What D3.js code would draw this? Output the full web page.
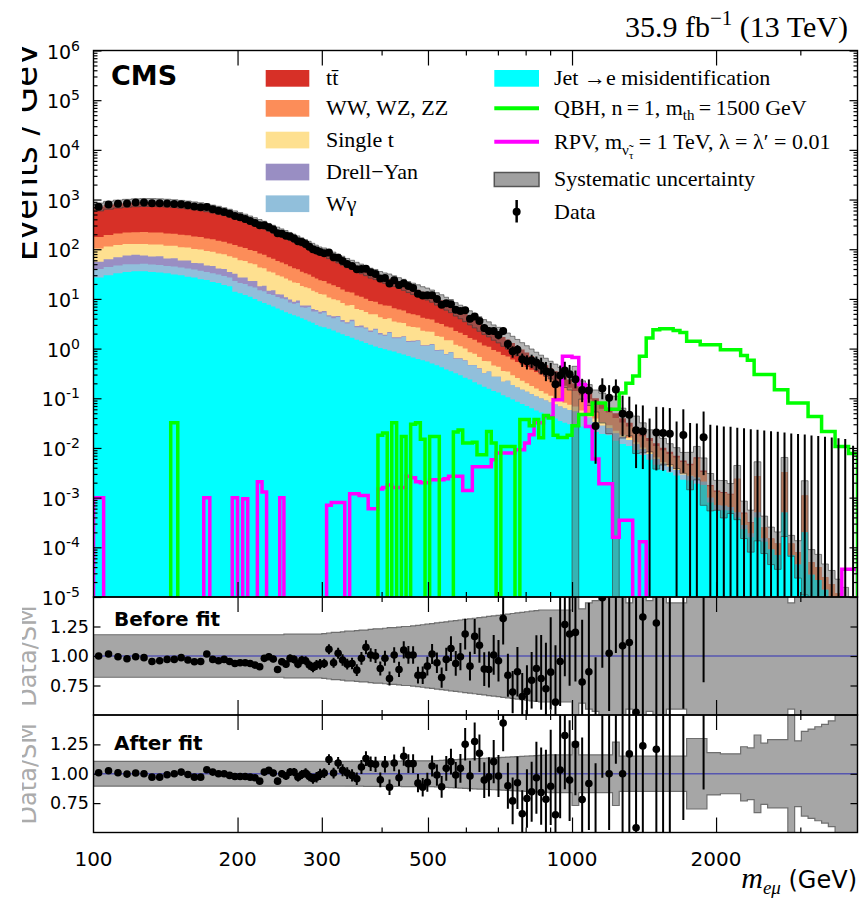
<!DOCTYPE html>
<html>
<head>
<meta charset="utf-8">
<script src="https://cdn.jsdelivr.net/npm/d3@7"></script>
<style>
  body { margin: 0; background: #fff; }
  .serif { font-family: "Liberation Serif", "Times New Roman", serif; }
</style>
</head>
<body>
<div id="chart"></div>
<script>
// ---- binning (GeV) ----
const binEdges = [
  100,105,110,115,120,125,130,135,140,145,150,155,160,165,170,175,180,185,190,195,
  200,205,210,215,220,225,230,235,240,245,250,255,260,265,270,275,280,285,290,295,300,
  307,314,321,328,335,343,351,359,367,375,384,393,402,411,420,430,440,450,460,471,
  482,493,504,516,528,540,552,565,578,591,605,619,633,648,663,678,694,710,726,743,
  760,778,796,814,833,852,872,892,913,934,955,977,1000,
  1033,1067,1102,1138,1176,1215,1255,1296,1339,1383,1429,1476,1525,1575,1627,1681,
  1736,1794,1853,1914,1977,2042,2110,2179,2251,2325,2402,2481,2563,2648,2735,2825,
  2919,3015,3114,3217,3323,3433,3546,3663,3784,3950
];

// ---- backgrounds, events / GeV per bin ----
const jetFakes = [
  27,30,33,35,36,36,35,34,33,31,
  30,28,27,25,24,22,21,19,18,14,
  13,12,11,10,9,8.3,7.6,7,6.4,5.9,
  5.4,5,4.7,4.4,4.1,3.8,3.5,3.3,3.0,2.8,
  2.7,2.5,2.3,2.1,1.95,1.8,1.65,1.5,1.4,1.3,
  1.2,1.1,1.03,0.97,0.92,0.87,0.81,0.76,0.71,0.66,
  0.62,0.58,0.55,0.5,0.46,0.42,0.38,0.35,0.32,0.29,
  0.26,0.24,0.21,0.19,0.17,0.155,0.14,0.13,0.115,0.105,
  0.095,0.085,0.077,0.07,0.063,0.057,0.052,0.047,0.043,0.039,
  0.035,0.032,0.03,0.03,0.027,0.026,0.021,0.019,0.018,0.014,
  0.012,0.011,0.0091,0.0072,0.0058,0.0046,0.0036,0.0032,0.0028,0.0023,
  0.0022,0.0019,0.0018,8e-4,5.6e-4,5.6e-4,5.5e-4,4e-4,2.3e-4,1.6e-4,
  4e-4,1.3e-4,9e-5,7e-5,5e-4,7e-5,4.5e-5,2e-4,2.8e-5,2.2e-5,
  1.4e-5,1e-5,7e-6,5e-6,3e-6
];
const wGamma = [
  13,14,14,15,14,15,14,14,13,14,
  13,13,12,12,11,11,10,10,9,9,
  8,8,7,7,6,6,5,5,4.5,4.3,
  4.4,3.5,3.3,3.9,2.7,2.8,3.4,2.3,2.6,2.2,
  2.6,1.9,1.8,2.2,1.5,1.4,1.9,1.2,1.3,1.25,
  0.95,1.3,0.9,0.85,1.15,0.75,0.8,0.95,0.65,0.72,
  0.8,0.55,0.58,0.7,0.45,0.5,0.38,0.48,0.3,0.33,
  0.31,0.22,0.25,0.2,0.15,0.19,0.13,0.14,0.1,0.12,
  0.09,0.08,0.072,0.065,0.058,0.052,0.047,0.043,0.039,0.036,
  0.033,0.03,0.028,0.024,0.019,0.015,0.012,0.009,0.007,0.0055,
  0.0045,0.0035,0.0028,0.0022,0.0018,0.0014,0.0012,0.001,0.0008,0.0006,
  0.0005,0.0006,0.0003,0.0002,1.5e-4,1.3e-4,1e-4,1e-4,5e-5,3e-5,
  1e-4,2e-5,0,0,0,0,0,0,0,0,
  0,0,0,0,0
];
const drellYan = [
  16,19,22,25,27,24,22,24,19,21,
  16,18,14,15,12,13,10,11,8,9,
  6,7,5,6,3,4,2,3,1.5,2,
  1,1.2,0.8,1.0,0.6,0.8,0.5,0.7,0.4,0.5,
  0.4,0.3,0.4,0.25,0.3,0.2,0.25,0.15,0.2,0.12,
  0.15,0.1,0.12,0.08,0.1,0.07,0.08,0.06,0.06,0.05,
  0.05,0.04,0.04,0.03,0.03,0.03,0.02,0.02,0.02,0.02,
  0.01,0.01,0.01,0.01,0,0,0,0,0,0,
  0,0,0,0,0,0,0,0,0,0,
  0,0,0,0,0,0,0,0,0,0,
  0,0,0,0,0,0,0,0,0,0,
  0,0,0,0,0,0,0,0,0,0,
  0,0,0,0,0,0,0,0,0,0,
  0,0,0,0,0
];
const singleTop = [
  48,50,52,52,50,52,53,52,52,51,
  50,49,48,47,45,43,41,39,37,35,
  33,31,29,27,25,23,21,19,17.5,16,
  15,13.8,12.7,11.6,10.7,9.8,9.0,8.3,7.6,7.0,
  6.6,6.0,5.4,4.9,4.5,4.0,3.7,3.4,3.1,2.8,
  2.6,2.4,2.2,2.05,1.93,1.8,1.65,1.52,1.4,1.3,
  1.2,1.12,1.05,0.95,0.86,0.78,0.7,0.62,0.55,0.48,
  0.42,0.37,0.32,0.28,0.24,0.21,0.185,0.16,0.14,0.12,
  0.105,0.09,0.077,0.066,0.056,0.048,0.041,0.035,0.03,0.026,
  0.022,0.019,0.016,0.014,0.011,0.008,0.006,0.0045,0.0035,0.0026,
  0.002,0.0015,0.0011,0.0008,0.0006,0.0005,0.0004,0.0003,0.0002,0.0002,
  0.0001,0.0001,0,0,0,0,0,0,0,0,
  0,0,0,0,0,0,0,0,0,0,
  0,0,0,0,0
];
const diboson = [
  72,80,86,90,93,94,93,92,90,88,
  86,83,80,77,73,70,66,63,59,55,
  52,48,45,42,39,36,33,30,28,26,
  24,22,20,18.5,17.2,15.8,14.6,13.4,12.3,11.3,
  10.7,9.8,8.9,8.0,7.3,6.6,6.0,5.5,5.0,4.6,
  4.2,3.9,3.6,3.4,3.2,3.0,2.75,2.55,2.35,2.17,
  2.0,1.88,1.78,1.65,1.52,1.4,1.29,1.18,1.07,0.97,
  0.88,0.8,0.72,0.65,0.59,0.53,0.48,0.43,0.39,0.35,
  0.31,0.28,0.25,0.225,0.2,0.18,0.162,0.146,0.132,0.12,
  0.108,0.098,0.088,0.072,0.058,0.047,0.036,0.029,0.023,0.018,
  0.014,0.011,0.009,0.007,0.0056,0.0045,0.0038,0.0031,0.0026,0.0021,
  0.0017,0.0035,0.0012,7e-4,6e-4,5.5e-4,5e-4,0.0019,2e-4,1.2e-4,
  0.0022,1e-4,6e-5,5e-5,0.0028,5e-5,3.5e-5,9e-4,2.2e-5,1.8e-5,
  1.1e-5,8e-6,5e-6,3e-6,2e-6
];
const ttbar = [
  544,587,618,638,655,664,668,659,653,635,
  620,599,579,554,530,496,472,438,409,378,
  353,324,298,273,253,233,211,193,178,163,
  151,138,128,117,108,99,91,83,76,70,
  66,60,54,49,44.3,39.9,36,33.1,30.1,27.6,
  24.8,23,21.1,19.6,18.3,17,15.4,14,12.75,11.6,
  10.6,9.75,9.0,8.0,7.1,6.3,5.6,4.85,4.2,3.64,
  3.16,2.74,2.33,1.98,1.73,1.5,1.3,1.13,0.965,0.825,
  0.7,0.585,0.484,0.404,0.333,0.273,0.228,0.189,0.156,0.129,
  0.102,0.091,0.078,0.06,0.045,0.034,0.025,0.018,0.013,0.01,
  0.007,0.005,0.0038,0.0028,0.002,0.0015,0.0011,8e-4,6e-4,4e-4,
  3e-4,4e-4,2e-4,1e-4,8e-5,6e-5,5e-5,0,2e-5,1e-5,
  0,0,0,0,0,0,0,0,0,0,
  0,0,0,0,0
];

// ---- signals, events / GeV ----
const qbhSignal = [
  0,0,0,0,0,0,0,0,0,0.032,
  0,0,0,0,0,0,0,0,0,0,
  0,0,0,0,0,0,0,0,0,0,
  0,0,0,0,0,0,0,0,0,0,
  0,0,0,0,0,0,0,0,0,0,
  0,0,0.018,0.02,0,0.032,0,0.017,0,0.03,
  0.032,0.015,0,0.017,0.017,0,0,0,0.021,0.023,
  0.0126,0.0126,0.013,0.0073,0.0073,0.0215,0.0126,0,0.0107,0.0107,
  0.0107,0,0.0375,0.0375,0.028,0.0375,0.016,0.045,0.04,0.018,
  0.0163,0.0163,0.018,0.028,0.047,0.047,0.08,0.08,0.06,0.06,
  0.128,0.2,0.28,0.7,1.64,2.4,2.5,2.5,2.3,2.1,
  1.4,1.4,1.2,1.2,1.2,0.95,0.95,0.95,0.73,0.58,
  0.3,0.3,0.3,0.149,0.149,0.08,0.08,0.08,0.043,0.043,
  0.0215,0.0215,0.0107,0.0107,0.0077
];
const rpvSignal = [
  0.001,0,0,0,0,0,0,0,0,0,
  0,0,0,0,0.001,0,0,0,0,0.001,
  0,0.00095,0,0,0.0021,0.0013,0,0,0,0.001,
  0,0,0,0,0,0,0,0,0,0,
  0,0.0007,0.0008,0.0008,0.0008,0,0.0012,0.0012,0.0011,0.0011,
  0.0006,0.0006,0.0015,0.0016,0.0018,0.0016,0.0016,0.0016,0.0027,0.0025,
  0.0021,0.002,0.002,0.0023,0.0023,0.0023,0.0024,0.0027,0.0027,0.0027,
  0.0014,0.0014,0.0042,0.0042,0.0042,0.0042,0.0058,0.0079,0.0079,0.0079,
  0.0079,0.0092,0.0092,0.0126,0.0185,0.032,0.032,0.043,0.043,0.093,
  0.093,0.7,0.7,0.66,0.19,0.027,0.006,0.0019,0.0019,1.6e-4,
  3.5e-4,3.5e-4,0,1.3e-4,0,0,0,0,0,0,
  0,0,0,0,0,0,0,0,0,0,
  0,0,0,0,0,0,0,0,0,0,
  0,0,0,3.6e-5,3.6e-5
];

// ---- observed events per bin ----
const dataEvents = [
  3600,3970,4100,4180,4350,4360,4220,4200,4180,4080,
  4020,3820,3610,3480,3530,3180,2980,2820,2580,2340,
  2190,2030,1850,1680,1520,1520,1390,1250,1045,1030,
  931,902,825,726,696,634,558,501,471,438,
  584,599,482,473,406,402,367,317,321,322,
  309,284,233,238,184,238,190,207,182,183,
  139,129,131,143,119,92,98,102,79,74,
  83,56,62,54,39,34,36,30,36,21,
  15,17,11,10,11,10,9,7,7,4,
  6,8,7,8,5,5,1,6,4,6,
  2,2,1,1,0,1,1,1,0,1,
  0,0,1,0,0,0,0,0,0,0,
  0,0,0,0,0,0,0,0,0,0,
  0,0,0,0,0
];

// ---- data / SM ratios ----
const ratioBefore = [
  1.0,1.017,0.994,0.977,0.994,0.986,0.954,0.96,0.971,0.971,
  0.986,0.966,0.951,0.954,1.017,0.971,0.96,0.971,0.954,0.937,
  0.943,0.943,0.937,0.923,0.909,0.98,0.994,0.974,0.886,0.951,
  0.931,0.98,0.971,0.931,0.966,0.96,0.923,0.903,0.923,0.931,
  0.937,1.057,0.943,1.023,0.966,0.931,0.937,0.88,0.98,1.074,
  1.009,1.0,0.894,0.98,0.809,1.009,0.886,1.051,1.009,1.009,
  0.837,0.837,0.914,1.017,0.943,0.817,0.971,1.063,0.937,0.994,
  1.186,0.914,1.166,1.091,0.889,0.886,1.009,0.96,1.317,0.837,
  0.694,0.866,0.657,0.7,0.794,0.894,0.809,0.723,0.863,0.609,
  0.954,1.266,1.186,1.2,0.78,0.866,0.3,1.494,1.023,1.7,
  1.086,1.114,0.523,1.331,0,1.28,2.2,2.5,0,3.2,
  0,0,4.5,0,0,0,0,0,0,0,
  0,0,0,0,0,0,0,0,0,0,
  0,0,0,0,0
];
const ratioAfter = [
  1.009,1.026,1.009,0.997,1.006,1.0,0.971,0.971,0.991,1.0,
  1.014,0.994,0.971,0.971,1.034,1.014,1.0,1.0,0.986,0.977,
  0.977,0.977,0.971,0.966,0.937,1.014,1.029,1.006,0.937,1.0,
  0.98,1.014,1.014,0.971,0.994,1.006,0.977,0.957,0.971,0.994,
  1.006,1.121,1.006,1.092,1.029,1.006,0.986,0.957,1.057,1.129,
  1.086,1.08,0.948,1.08,0.885,1.092,0.966,1.149,1.086,1.086,
  0.92,0.885,0.928,1.066,0.989,0.889,1.046,1.103,0.989,1.046,
  1.251,0.98,1.274,1.174,0.946,0.974,1.103,0.98,1.431,0.897,
  0.769,0.923,0.66,0.789,0.846,0.966,0.84,0.783,0.894,0.651,
  1.031,1.326,0.946,1.25,0.78,0.917,0.33,1.6,1.0,1.8,
  1.0,1.169,0.54,1.237,0,1.209,2.4,2.7,0,3.5,
  0,0,5,0,0,0,0,0,0,0,
  0,0,0,0,0,0,0,0,0,0,
  0,0,0,0,0
];

// ---- relative systematic uncertainty on the SM prediction ----
const systBefore = [
  0.18,0.18,0.18,0.18,0.18,0.18,0.18,0.18,0.18,0.18,
  0.18,0.18,0.18,0.18,0.18,0.18,0.18,0.18,0.18,0.18,
  0.18,0.18,0.18,0.18,0.18,0.18,0.18,0.18,0.18,0.18,
  0.185,0.185,0.185,0.185,0.185,0.185,0.185,0.185,0.185,0.185,
  0.19,0.195,0.2,0.2,0.205,0.21,0.21,0.215,0.22,0.22,
  0.225,0.23,0.23,0.235,0.24,0.24,0.245,0.25,0.25,0.255,
  0.26,0.265,0.27,0.275,0.28,0.285,0.29,0.295,0.3,0.305,
  0.31,0.315,0.32,0.325,0.33,0.335,0.34,0.345,0.35,0.355,
  0.36,0.365,0.37,0.375,0.38,0.385,0.39,0.39,0.39,0.39,
  0.39,0.39,0.39,1.2,0.4,0.45,0.47,0.6,0.7,1.2,
  0.6,0.45,0.7,0.6,0.47,0.7,0.55,0.45,0.45,0.45,
  0.7,0.65,0.8,0.7,0.6,0.7,0.6,0.85,0.7,0.75,
  0.95,0.7,0.7,0.7,0.95,0.45,0.7,0.99,0.8,0.8,
  0.85,0.9,0.9,0.95,0.9
];
const systAfter = [
  0.105,0.105,0.105,0.105,0.105,0.105,0.105,0.105,0.105,0.105,
  0.105,0.105,0.105,0.105,0.105,0.105,0.105,0.105,0.105,0.105,
  0.105,0.105,0.105,0.105,0.105,0.105,0.105,0.105,0.105,0.105,
  0.105,0.105,0.105,0.105,0.105,0.105,0.105,0.105,0.105,0.105,
  0.105,0.105,0.105,0.105,0.105,0.106,0.106,0.106,0.106,0.107,
  0.107,0.107,0.107,0.108,0.108,0.108,0.108,0.109,0.109,0.109,
  0.11,0.11,0.11,0.11,0.112,0.114,0.116,0.118,0.12,0.122,
  0.124,0.126,0.128,0.13,0.132,0.134,0.136,0.138,0.14,0.142,
  0.144,0.146,0.148,0.15,0.152,0.154,0.156,0.158,0.16,0.16,
  0.16,0.16,0.16,0.27,0.16,0.16,0.16,0.16,0.16,0.27,
  0.15,0.15,0.15,0.15,0.15,0.15,0.15,0.15,0.15,0.15,
  0.3,0.3,0.3,0.18,0.18,0.17,0.17,0.17,0.23,0.22,
  0.33,0.26,0.29,0.29,0.29,0.5,0.28,0.36,0.38,0.4,
  0.42,0.45,0.5,0.5,0.5
];

// ---- axis ticks ----
const xLabelTicks = [100, 200, 300, 500, 1000, 2000];
const xMajorTicks = [200, 300, 500, 1000, 2000];
const xMinorTicks = [400, 600, 700, 800, 900, 3000];
const yExponents = [-5, -4, -3, -2, -1, 0, 1, 2, 3, 4, 5, 6];
const ratioTicks = [0.75, 1.0, 1.25];

// ---- layout ----
const frame = {left: 93.5, right: 857.5, top: 50.5, main: 597, r1: 715, r2: 832.5};
const nBins = binEdges.length - 1;
const FLOOR = 1e-8;

const svg = d3.select('#chart').append('svg')
    .attr('width', 861)
    .attr('height', 898)
    .style('font-family', '"DejaVu Sans", sans-serif');

const x = d3.scaleLog().domain([100, 3950]).range([frame.left, frame.right]);
const y = d3.scaleLog().domain([1e-5, 1e6]).range([frame.main, frame.top]);
const yBefore = d3.scaleLinear().domain([0.5, 1.5]).range([frame.r1, frame.main]);
const yAfter = d3.scaleLinear().domain([0.5, 1.5]).range([frame.r2, frame.r1]);
const logY = v => y(Math.max(v || 0, FLOOR));

const defs = svg.append('defs');
function addClip(id, x0, y0, x1, y1) {
  defs.append('clipPath').attr('id', id).append('rect')
      .attr('x', x0).attr('y', y0).attr('width', x1 - x0).attr('height', y1 - y0);
}
addClip('clip-main', frame.left, frame.top, frame.right, frame.main);
addClip('clip-r1', frame.left, frame.main, frame.right, frame.r1);
addClip('clip-r2', frame.left, frame.r1, frame.right, frame.r2);
addClip('clip-ylab', 22, 0, 200, 898);

// step helpers: one point per lower bin edge plus the closing edge
function stepData(lo, hi) {
  const pts = d3.range(nBins).map(i => ({x: binEdges[i], lo: lo(i), hi: hi(i)}));
  pts.push({x: binEdges[nBins], lo: lo(nBins - 1), hi: hi(nBins - 1)});
  return pts;
}
const stepAreaLog = d3.area().curve(d3.curveStepAfter)
    .x(d => x(d.x)).y0(d => logY(d.lo)).y1(d => logY(d.hi));

// ---- stacked backgrounds ----
const keys = ['jet', 'wg', 'dy', 'st', 'vv', 'tt'];
const colors = {jet: '#00ffff', wg: '#91bfdb', dy: '#998ec3', st: '#fee090', vv: '#fc8d59', tt: '#d73027'};
const rows = d3.range(nBins).map(i => ({
  jet: jetFakes[i] || 0, wg: wGamma[i] || 0, dy: drellYan[i] || 0,
  st: singleTop[i] || 0, vv: diboson[i] || 0, tt: ttbar[i] || 0
}));
const stacked = d3.stack().keys(keys)(rows);
const total = d3.range(nBins).map(i => stacked[stacked.length - 1][i][1]);

const mainG = svg.append('g').attr('clip-path', 'url(#clip-main)');

// paint from the top layer down, each from the floor, so no seams show between layers
stacked.slice().reverse().forEach(layer => {
  mainG.append('path')
      .attr('d', stepAreaLog(stepData(() => FLOOR, i => layer[i][1])))
      .attr('fill', colors[layer.key]);
});

// systematic band
mainG.append('path')
    .attr('d', stepAreaLog(stepData(i => total[i] * (1 - systBefore[i]), i => total[i] * (1 + systBefore[i]))))
    .attr('fill', '#6a6a6a')
    .attr('fill-opacity', 0.5)
    .attr('stroke', '#3c3c3c')
    .attr('stroke-opacity', 0.7)
    .attr('stroke-width', 0.9);

// signals as step outlines
const stepLineLog = d3.line().curve(d3.curveStepAfter).x(d => x(d.x)).y(d => logY(d.v));
function signalPts(vals) {
  const pts = [{x: binEdges[0], v: 0}];
  d3.range(nBins).forEach(i => pts.push({x: binEdges[i], v: vals[i] || 0}));
  pts.push({x: binEdges[nBins], v: vals[nBins - 1] || 0});
  pts.push({x: binEdges[nBins], v: 0});
  return pts;
}
mainG.append('path').attr('d', stepLineLog(signalPts(rpvSignal)))
    .attr('fill', 'none').attr('stroke', '#ff00ff').attr('stroke-width', 3.5);
mainG.append('path').attr('d', stepLineLog(signalPts(qbhSignal)))
    .attr('fill', 'none').attr('stroke', '#00ff00').attr('stroke-width', 3.5);

// ---- data ----
const garwood = [[0, 1.841], [0.173, 3.300], [0.708, 4.638], [1.367, 5.918], [2.086, 7.163],
                 [2.840, 8.382], [3.620, 9.584], [4.419, 10.77], [5.232, 11.95], [6.057, 13.11]];
function poissonInterval(n) {
  if (n < garwood.length) return garwood[n];
  const s = Math.sqrt(n);
  return [n - s, n + s];
}
const dataPts = d3.range(nBins).map(i => {
  const w = binEdges[i + 1] - binEdges[i];
  const n = dataEvents[i] || 0;
  const [lo, hi] = poissonInterval(n);
  return {i, n, w, xc: (binEdges[i] + binEdges[i + 1]) / 2, v: n / w, lo: lo / w, hi: hi / w};
});

mainG.append('g').selectAll('line').data(dataPts).join('line')
    .attr('x1', d => x(d.xc)).attr('x2', d => x(d.xc))
    .attr('y1', d => logY(d.lo)).attr('y2', d => logY(d.hi))
    .attr('stroke', '#000').attr('stroke-width', 2);
mainG.append('g').selectAll('circle').data(dataPts.filter(d => d.n > 0)).join('circle')
    .attr('cx', d => x(d.xc)).attr('cy', d => logY(d.v)).attr('r', 4)
    .attr('fill', '#000');

// ---- ratio panels ----
function ratioPanel(clipId, yS, ratios, unc) {
  const g = svg.append('g').attr('clip-path', `url(#${clipId})`);
  const band = d3.area().curve(d3.curveStepAfter)
      .x(d => x(d.x)).y0(d => yS(d.lo)).y1(d => yS(d.hi));
  g.append('path')
      .attr('d', band(stepData(i => 1 - unc[i], i => 1 + unc[i])))
      .attr('fill', '#a6a6a6').attr('stroke', '#6e6e6e').attr('stroke-width', 1.2);
  g.append('line')
      .attr('x1', frame.left).attr('x2', frame.right)
      .attr('y1', yS(1)).attr('y2', yS(1))
      .attr('stroke', '#5656b0').attr('stroke-width', 1.5);
  const pts = dataPts.filter(d => d.n > 0 && ratios[d.i] > 0).map(d => {
    const r = ratios[d.i];
    const [lo, hi] = poissonInterval(d.n);
    return {xc: d.xc, r, lo: r * lo / d.n, hi: r * hi / d.n};
  });
  g.append('g').selectAll('line').data(pts).join('line')
      .attr('x1', d => x(d.xc)).attr('x2', d => x(d.xc))
      .attr('y1', d => yS(d.lo)).attr('y2', d => yS(d.hi))
      .attr('stroke', '#000').attr('stroke-width', 2);
  g.append('g').selectAll('circle').data(pts).join('circle')
      .attr('cx', d => x(d.xc)).attr('cy', d => yS(d.r)).attr('r', 3.8)
      .attr('fill', '#000');
}
ratioPanel('clip-r1', yBefore, ratioBefore, systBefore);
ratioPanel('clip-r2', yAfter, ratioAfter, systAfter);

// ---- frames and ticks ----
[[frame.top, frame.main], [frame.main, frame.r1], [frame.r1, frame.r2]].forEach(([t, b]) => {
  svg.append('rect')
      .attr('x', frame.left).attr('y', t)
      .attr('width', frame.right - frame.left).attr('height', b - t)
      .attr('fill', 'none').attr('stroke', '#000').attr('stroke-width', 1.4);
});

function tickGroup(transform, axis) {
  svg.append('g').attr('transform', transform)
      .call(axis.tickFormat(''))
      .call(g => g.select('.domain').remove())
      .call(g => g.selectAll('line').attr('stroke', '#000').attr('stroke-width', 1.2));
}
function xTicks(yPos, edge) {
  const make = edge === 'top' ? d3.axisTop : d3.axisBottom;
  tickGroup(`translate(0,${yPos})`, make(x).tickValues(xMajorTicks).tickSize(-15));
  tickGroup(`translate(0,${yPos})`, make(x).tickValues(xMinorTicks).tickSize(-5));
}
xTicks(frame.top, 'top');
xTicks(frame.main, 'bottom');
xTicks(frame.main, 'top');
xTicks(frame.r1, 'bottom');
xTicks(frame.r1, 'top');
xTicks(frame.r2, 'bottom');

const yMajor = yExponents.map(e => Math.pow(10, e));
const yMinor = [];
yExponents.slice(0, -1).forEach(e => d3.range(2, 10).forEach(k => yMinor.push(k * Math.pow(10, e))));
tickGroup(`translate(${frame.left},0)`, d3.axisLeft(y).tickValues(yMajor).tickSize(-8));
tickGroup(`translate(${frame.left},0)`, d3.axisLeft(y).tickValues(yMinor).tickSize(-4));
tickGroup(`translate(${frame.right},0)`, d3.axisRight(y).tickValues(yMajor).tickSize(-8));
tickGroup(`translate(${frame.right},0)`, d3.axisRight(y).tickValues(yMinor).tickSize(-4));
[yBefore, yAfter].forEach(yS => {
  tickGroup(`translate(${frame.left},0)`, d3.axisLeft(yS).tickValues(ratioTicks).tickSize(-7));
  tickGroup(`translate(${frame.right},0)`, d3.axisRight(yS).tickValues(ratioTicks).tickSize(-7));
});

// ---- tick labels ----
svg.append('g').selectAll('text').data(xLabelTicks).join('text')
    .attr('x', d => x(d)).attr('y', 866)
    .attr('text-anchor', 'middle').attr('font-size', 20)
    .text(d => d);

const yLab = svg.append('g').selectAll('text').data(yExponents).join('text')
    .attr('x', 80).attr('y', e => y(Math.pow(10, e)) + 8)
    .attr('text-anchor', 'end').attr('font-size', 19);
yLab.append('tspan').text('10');
yLab.append('tspan').attr('dy', -8).attr('font-size', 14).text(e => String(e));

[yBefore, yAfter].forEach(yS => {
  svg.append('g').selectAll('text').data(ratioTicks).join('text')
      .attr('x', 89).attr('y', d => yS(d) + 6)
      .attr('text-anchor', 'end').attr('font-size', 17.5)
      .text(d => d.toFixed(2));
});

// ---- axis titles (their left part is cut off, as in the original) ----
const ylabG = svg.append('g').attr('clip-path', 'url(#clip-ylab)');
ylabG.append('text')
    .attr('transform', 'translate(37,152) rotate(-90)')
    .attr('text-anchor', 'middle').attr('font-size', 34)
    .text('Events / GeV');
[yBefore, yAfter].forEach(yS => {
  ylabG.append('text')
      .attr('transform', `translate(36,${yS(1.0)}) rotate(-90)`)
      .attr('text-anchor', 'middle').attr('font-size', 24).attr('fill', '#ababab')
      .text('Data/SM');
});

const xTitle = svg.append('text').attr('x', 857).attr('y', 888).attr('text-anchor', 'end');
xTitle.append('tspan').attr('class', 'serif').attr('font-style', 'italic').attr('font-size', 30).text('m');
xTitle.append('tspan').attr('class', 'serif').attr('font-style', 'italic').attr('font-size', 19).attr('dy', 6).text('eμ');
xTitle.append('tspan').attr('font-size', 24).attr('dy', -6).text(' (GeV)');

// ---- labels ----
svg.append('text').attr('x', 111).attr('y', 85)
    .attr('font-size', 27).attr('font-weight', 'bold').text('CMS');

const lumi = svg.append('text').attr('class', 'serif').attr('x', 848).attr('y', 37)
    .attr('text-anchor', 'end').attr('font-size', 30);
lumi.append('tspan').text('35.9 fb');
lumi.append('tspan').attr('dy', -12).attr('font-size', 21).text('\u22121');
lumi.append('tspan').attr('dy', 12).text(' (13 TeV)');

svg.append('text').attr('x', 114).attr('y', 626)
    .attr('font-size', 20).attr('font-weight', 'bold').text('Before fit');
svg.append('text').attr('x', 114).attr('y', 750)
    .attr('font-size', 20).attr('font-weight', 'bold').text('After fit');

// ---- legend ----
function richText(sel, parts) {
  let shift = 0;
  parts.forEach(p => {
    const s = p.s || 0;
    const t = sel.append('tspan').attr('dy', s - shift).text(p.t);
    if (p.fs) t.attr('font-size', p.fs);
    shift = s;
  });
}
const legendLeft = [
  {key: 'tt', cy: 78.3, parts: [{t: 't'}, {t: 't\u0304'}]},
  {key: 'vv', cy: 108.3, parts: [{t: 'WW, WZ, ZZ'}]},
  {key: 'st', cy: 140, parts: [{t: 'Single t'}]},
  {key: 'dy', cy: 172, parts: [{t: 'Drell\u2212Yan'}]},
  {key: 'wg', cy: 203.7, parts: [{t: 'W\u03b3'}]}
];
const legend = svg.append('g');
legendLeft.forEach(d => {
  legend.append('rect').attr('x', 265.7).attr('y', d.cy - 8.3).attr('width', 43.6).attr('height', 16.7)
      .attr('fill', colors[d.key]);
  richText(legend.append('text').attr('class', 'serif').attr('x', 326).attr('y', d.cy + 7).attr('font-size', 22), d.parts);
});

const lx = 494.3, lw = 44.7, tx = 554;
legend.append('rect').attr('x', lx).attr('y', 70).attr('width', lw).attr('height', 16.7).attr('fill', colors.jet);
richText(legend.append('text').attr('class', 'serif').attr('x', tx).attr('y', 85.3).attr('font-size', 22),
    [{t: 'Jet \u2192e misidentification'}]);
legend.append('line').attr('x1', lx).attr('x2', lx + lw).attr('y1', 108.3).attr('y2', 108.3)
    .attr('stroke', '#00ff00').attr('stroke-width', 4);
richText(legend.append('text').attr('class', 'serif').attr('x', tx).attr('y', 115.3).attr('font-size', 22),
    [{t: 'QBH, n\u2009=\u20091, m'}, {t: 'th', s: 5, fs: 15}, {t: '\u2009=\u20091500 GeV', s: 0}]);
legend.append('line').attr('x1', lx).attr('x2', lx + lw).attr('y1', 141.7).attr('y2', 141.7)
    .attr('stroke', '#ff00ff').attr('stroke-width', 4);
richText(legend.append('text').attr('class', 'serif').attr('x', tx).attr('y', 148.5).attr('font-size', 22),
    [{t: 'RPV, m'}, {t: '\u03bd\u0303', s: 6, fs: 15}, {t: '\u03c4', s: 10, fs: 11},
     {t: ' = 1 TeV, \u03bb = \u03bb\u2032 = 0.01', s: 0}]);
legend.append('rect').attr('x', lx).attr('y', 172.5).attr('width', lw).attr('height', 14)
    .attr('fill', '#a0a0a0').attr('stroke', '#555').attr('stroke-width', 1.5);
richText(legend.append('text').attr('class', 'serif').attr('x', tx).attr('y', 186).attr('font-size', 22),
    [{t: 'Systematic uncertainty'}]);
legend.append('line').attr('x1', lx + lw / 2).attr('x2', lx + lw / 2).attr('y1', 200).attr('y2', 222.5)
    .attr('stroke', '#000').attr('stroke-width', 2.5);
legend.append('circle').attr('cx', lx + lw / 2).attr('cy', 211.7).attr('r', 4).attr('fill', '#000');
richText(legend.append('text').attr('class', 'serif').attr('x', tx).attr('y', 218.5).attr('font-size', 22),
    [{t: 'Data'}]);
</script>
</body>
</html>
